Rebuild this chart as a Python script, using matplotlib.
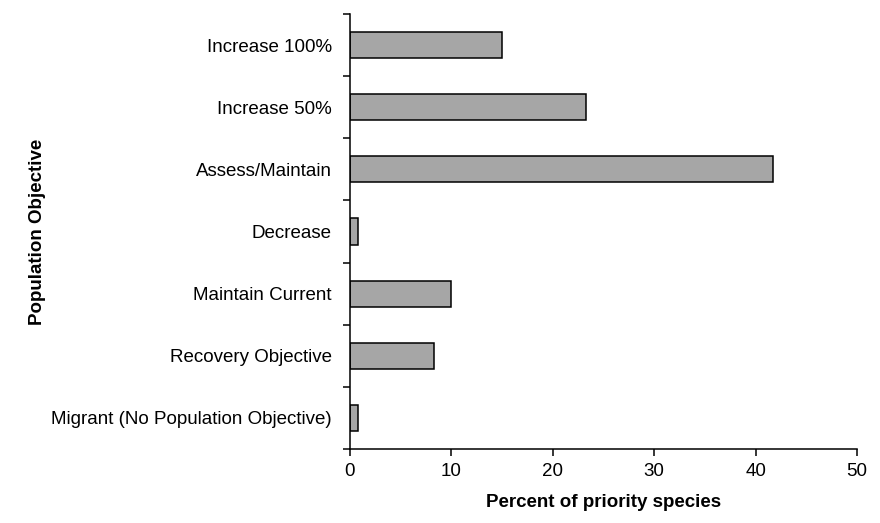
import matplotlib.pyplot as plt

plt.rcParams['font.family'] = ['Liberation Sans', 'DejaVu Sans']

# categories top to bottom
objectives = ['Increase 100%', 'Increase 50%', 'Assess/Maintain', 'Decrease',
              'Maintain Current', 'Recovery Objective',
              'Migrant (No Population Objective)']
percent = [15.0, 23.3, 41.7, 0.8, 10.0, 8.3, 0.8]
x_ticks = [0, 10, 20, 30, 40, 50]

fig = plt.figure(figsize=(8.8, 5.23), dpi=100)
ax = fig.add_axes([0.3977, 0.1415, 0.5762, 0.8317])

pos = list(range(len(objectives)))[::-1]
ax.barh(pos, percent, height=0.42, color='#a6a6a6', edgecolor='black', linewidth=1.1)

ax.set_xlim(0, 50)
ax.set_ylim(-0.5, len(objectives) - 0.5)
ax.set_xticks(x_ticks)
ax.tick_params(axis='x', direction='out', length=5, width=1.1, labelsize=13.5, pad=5)

# tick marks between categories, labels centred on bars
ax.set_yticks([p - 0.5 for p in range(len(objectives) + 1)])
ax.set_yticklabels([])
ax.tick_params(axis='y', which='major', direction='out', length=5, width=1.1)
ax.set_yticks(pos, minor=True)
ax.set_yticklabels(objectives, minor=True)
ax.tick_params(axis='y', which='minor', length=0, labelsize=13.5, pad=13)

for s in ['top', 'right']:
    ax.spines[s].set_visible(False)
for s in ['left', 'bottom']:
    ax.spines[s].set_linewidth(1.1)

ax.set_xlabel('Percent of priority species', fontsize=13.5, fontweight='bold', labelpad=10)
ax.set_ylabel('Population Objective', fontsize=13.5, fontweight='bold')
ax.yaxis.set_label_coords(-0.60, 0.5)

fig.savefig('out.png', dpi=100)
